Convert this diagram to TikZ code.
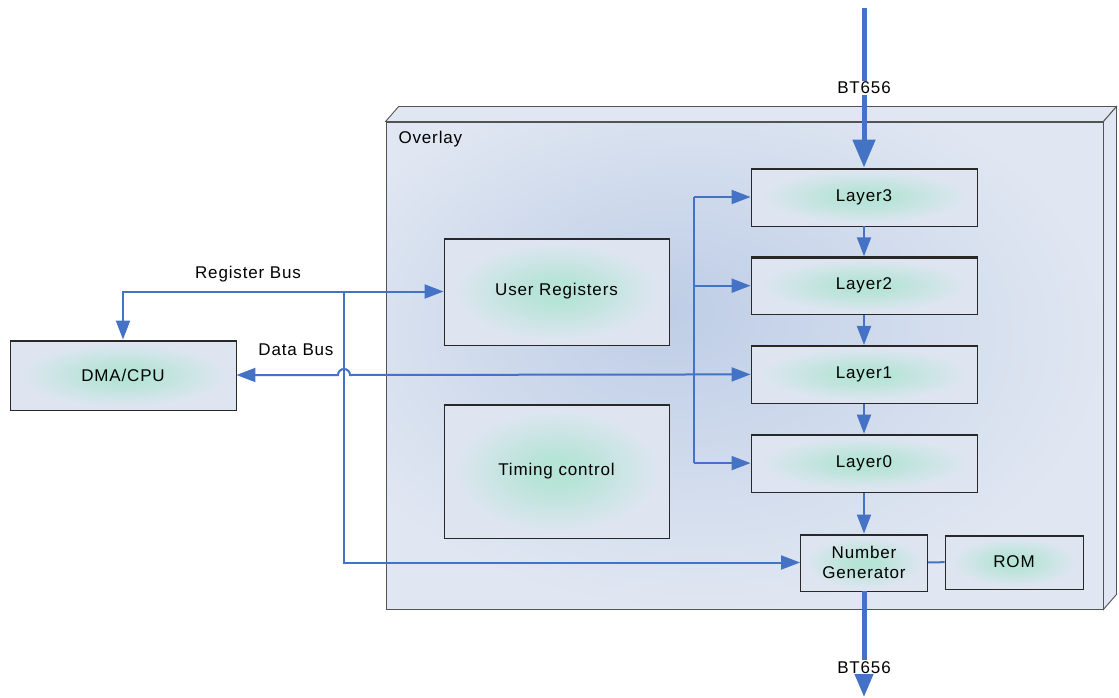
\documentclass[tikz,border=0pt]{standalone}
\usepackage{fontspec}
\setmainfont{Liberation Sans}[LetterSpace=5]
\usetikzlibrary{arrows.meta}
\usetikzlibrary{positioning}
\definecolor{busblue}{RGB}{68,114,196}
\definecolor{glowin}{RGB}{182,228,214}
\definecolor{glowout}{RGB}{222,229,241}
\definecolor{ovlin}{RGB}{190,205,230}
\definecolor{ovlout}{RGB}{224,231,242}
\definecolor{edgegray}{RGB}{40,40,40}
\pgfdeclareradialshading{glow}{\pgfpoint{0bp}{0bp}}{color(0bp)=(glowin); color(5bp)=(glowin); color(23bp)=(glowout); color(50bp)=(glowout)}
\pgfdeclareradialshading{backdrop}{\pgfpoint{-6bp}{6bp}}{color(0bp)=(ovlin); color(28bp)=(ovlout); color(50bp)=(ovlout)}
\tikzset{
    block/.style = {draw=edgegray,line width=0.9pt,shading=glow,inner sep=0pt,align=center,
        minimum width=226pt,minimum height=58pt,
        path picture={\draw[edgegray,line width=4pt] (path picture bounding box.north west) -- (path picture bounding box.north east);}},
    face/.style = {draw=edgegray!80,line width=0.9pt,fill=ovlout},
    bus/.style = {draw=busblue,line width=2pt},
    busto/.style = {bus,-{Triangle[length=19pt,width=14pt]}},
    busboth/.style = {bus,{Triangle[length=19pt,width=14pt]}-{Triangle[length=19pt,width=14pt]}},
    video/.style = {draw=busblue,line width=5pt,-{Triangle[length=28pt,width=22pt]}},
    buslabel/.style = {fill=white,inner sep=1pt}
}
\begin{document}
\begin{tikzpicture}[x=1pt,y=-1pt,every node/.style={font=\fontsize{17}{20}\selectfont}]
        \newcommand\lsep{88.7}
        \useasboundingbox (0,0) rectangle (1119,698);
        % Overlay box
        \node[draw=edgegray!80,line width=0.9pt,shading=backdrop,inner sep=0pt,
            minimum width=717pt,minimum height=487pt] (overlaybox) at (744.5,365.5) {};
        \draw[face] (overlaybox.north west) -- ++(13,-15)
            -- ([shift={(13,-15)}]overlaybox.north east) -- (overlaybox.north east) -- cycle;
        \draw[face] (overlaybox.north east) -- ++(13,-15)
            -- ([shift={(13,-15)}]overlaybox.south east) -- (overlaybox.south east) -- cycle;
        \node[anchor=west] (overlaytitle) at (395,139) {Overlay};
        % Blocks
        \node[block,minimum height=70pt] (dma) at (123,375) {DMA/CPU};
        \node[block,minimum width=225pt,minimum height=107pt] (userreg) at (556.5,291.5) {User Registers};
        \node[block,minimum width=225pt,minimum height=134pt] (timing) at (556.5,471) {Timing control};
        \path (864,197) node[block] (layer3) {Layer3}
            to +(0,1*\lsep) node[block] (layer2) {Layer2}
            to +(0,2*\lsep) node[block] (layer1) {Layer1}
            to +(0,3*\lsep) node[block] (layer0) {Layer0}
        ;
        \node[block,minimum width=127pt,minimum height=57pt] (numgen) at (864,562.5) {Number\\Generator};
        \node[block,minimum width=138pt,minimum height=54pt] (rom) at (1014,562) {ROM};
        % Bus labels
        \node (regbuslabel) at (248,274) {Register Bus};
        \node (databuslabel) at (296,350) {Data Bus};
        % Buses
        \coordinate (regtap) at (344,292);
        \coordinate (fan) at (694,197);
        \coordinate (hop) at (regtap |- dma.east);
        \draw[busboth] (dma.north) |- (userreg.west);
        \draw[busto] (regtap) |- (numgen.west);
        \draw[busboth] (dma.east) -- ([xshift=-6pt]hop) arc[start angle=180,end angle=360,radius=6] -- (layer1.west);
        \draw[bus] (fan) -- (fan |- layer0.west);
        \foreach \dest in {layer3,layer2,layer0}
            \draw[busto] (fan |- \dest.west) -- (\dest.west);
        \foreach \src/\dest in {layer3/layer2,layer2/layer1,layer1/layer0,layer0/numgen}
            \draw[busto] (\src) -- (\dest);
        \draw[bus] (numgen) -- (rom);
        % Video in and out
        \coordinate (vidin) at (864,8);
        \coordinate (vidout) at (864,697);
        \draw[video] (vidin) -- node[buslabel] (vidinlabel) {BT656} (layer3.north);
        \draw[video] (numgen.south) -- node[buslabel,pos=0.72] (vidoutlabel) {BT656} (vidout);
    \end{tikzpicture}
\end{document}
